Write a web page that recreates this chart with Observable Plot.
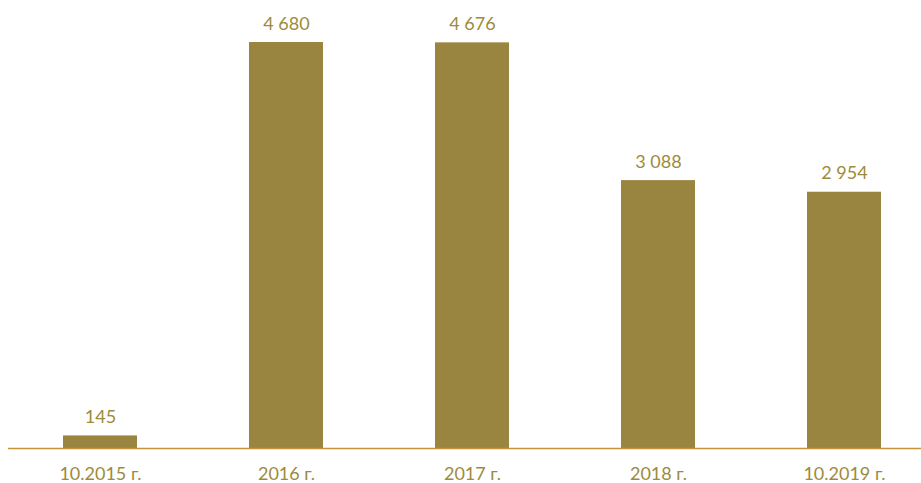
<!DOCTYPE html>
<html>
<head>
<meta charset="utf-8">
<script src="https://cdn.jsdelivr.net/npm/d3@7"></script>
<script src="https://cdn.jsdelivr.net/npm/@observablehq/plot@0.6"></script>
<style>
  html, body { margin: 0; padding: 0; background: #fff; }
  #chart svg { display: block; }
</style>
</head>
<body>
<div id="chart"></div>
<script>
const categories = ["10.2015 г.", "2016 г.", "2017 г.", "2018 г.", "10.2019 г."];
const values = [145, 4680, 4676, 3088, 2954];

const data = categories.map((c, i) => ({ category: c, value: values[i] }));
const fmt = d3.formatLocale({ decimal: ",", thousands: " ", grouping: [3], currency: ["", ""] }).format(",d");

const barColor = "#998540";
const textColor = "#9d8b3c";
const font = "Lato, 'Open Sans', sans-serif";

const chart = Plot.plot({
  width: 921,
  height: 483,
  marginLeft: 8,
  marginRight: 0,
  marginTop: 42,
  marginBottom: 35,
  style: { fontFamily: font, background: "#fff" },
  x: { domain: categories, range: [7, 937], paddingInner: 0.6, paddingOuter: 0.3, label: null },
  y: { domain: [0, 4680], axis: null },
  marks: [
    Plot.barY(data, { x: "category", y: "value", fill: barColor }),
    Plot.ruleY([0], { stroke: "#c8923a", strokeWidth: 1.5 }),
    Plot.text(data, { x: "category", y: "value", text: d => fmt(d.value), dy: -13, lineAnchor: "bottom", fill: textColor, fontSize: 18 }),
    Plot.axisX({ tickSize: 0, tickPadding: 19, fontSize: 18, color: textColor, label: null, lineAnchor: "top" })
  ]
});
document.getElementById("chart").appendChild(chart);
</script>
</body>
</html>
